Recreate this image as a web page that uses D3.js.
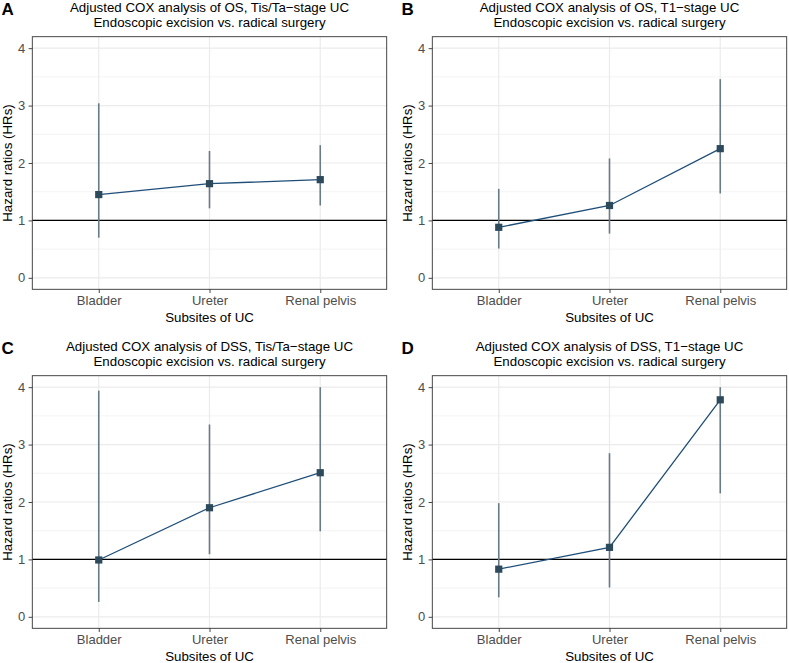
<!DOCTYPE html>
<html>
<head>
<meta charset="utf-8">
<script src="https://cdn.jsdelivr.net/npm/d3@7"></script>
<style>
  body { margin: 0; background: #fff; }
  svg { display: block; font-family: "Liberation Sans", Arial, sans-serif; }
</style>
</head>
<body>
<div id="chart"></div>
<script>
// Categories and axis ticks
const subsites = ['Bladder', 'Ureter', 'Renal pelvis'];
const yTicks = [0, 1, 2, 3, 4];
const yMinorTicks = [0.5, 1.5, 2.5, 3.5];

const panelLabels = ['A', 'B', 'C', 'D'];
const panelTitles = [
  'Adjusted COX analysis of OS, Tis/Ta\u2212stage UC',
  'Adjusted COX analysis of OS, T1\u2212stage UC',
  'Adjusted COX analysis of DSS, Tis/Ta\u2212stage UC',
  'Adjusted COX analysis of DSS, T1\u2212stage UC'
];
const subTitle = 'Endoscopic excision vs. radical surgery';

// Hazard ratios with 95% CI
const osTisHR = [1.45, 1.64, 1.71];
const osTisLow = [0.70, 1.21, 1.26];
const osTisHigh = [3.04, 2.21, 2.31];

const osT1HR = [0.88, 1.26, 2.25];
const osT1Low = [0.51, 0.77, 1.47];
const osT1High = [1.55, 2.08, 3.46];

const dssTisHR = [0.99, 1.90, 2.51];
const dssTisLow = [0.26, 1.09, 1.49];
const dssTisHigh = [3.94, 3.35, 4.00];

const dssT1HR = [0.83, 1.21, 3.78];
const dssT1Low = [0.34, 0.51, 2.15];
const dssT1High = [1.98, 2.85, 4.00];

const panelData = [
  [osTisHR, osTisLow, osTisHigh],
  [osT1HR, osT1Low, osT1High],
  [dssTisHR, dssTisLow, dssTisHigh],
  [dssT1HR, dssT1Low, dssT1High]
];

const width = 789;
const height = 663;

const svg = d3.select('#chart')
  .append('svg')
  .attr('width', width)
  .attr('height', height)
  .attr('viewBox', [0, 0, width, height]);

// panel box inside each cell
const boxLeft = 32.3, boxRight = 386.7, boxTop = 36.7, boxBottom = 289.3;
const offsets = [[0, 0], [400, 0], [0, 339], [400, 339]];

const x = d3.scalePoint()
  .domain(subsites)
  .range([boxLeft, boxRight])
  .padding(0.6);

const y = d3.scaleLinear()
  .domain([-0.2, 4.2])
  .range([boxBottom, boxTop]);

panelData.forEach(([hr, low, high], i) => {
  const g = svg.append('g')
    .attr('transform', `translate(${offsets[i][0]},${offsets[i][1]})`);

  const rows = subsites.map((s, j) => ({ site: s, hr: hr[j], low: low[j], high: high[j] }));

  // panel background
  g.append('rect')
    .attr('x', boxLeft).attr('y', boxTop)
    .attr('width', boxRight - boxLeft).attr('height', boxBottom - boxTop)
    .attr('fill', '#fff');

  // minor grid
  g.append('g').selectAll('line')
    .data(yMinorTicks)
    .join('line')
    .attr('x1', boxLeft).attr('x2', boxRight)
    .attr('y1', d => y(d)).attr('y2', d => y(d))
    .attr('stroke', '#f0f0f0').attr('stroke-width', 0.8);

  // major grid
  g.append('g').selectAll('line')
    .data(yTicks)
    .join('line')
    .attr('x1', boxLeft).attr('x2', boxRight)
    .attr('y1', d => y(d)).attr('y2', d => y(d))
    .attr('stroke', '#ebebeb').attr('stroke-width', 1.2);

  g.append('g').selectAll('line')
    .data(subsites)
    .join('line')
    .attr('x1', d => x(d)).attr('x2', d => x(d))
    .attr('y1', boxTop).attr('y2', boxBottom)
    .attr('stroke', '#ebebeb').attr('stroke-width', 1.2);

  // reference line at HR = 1
  g.append('line')
    .attr('x1', boxLeft).attr('x2', boxRight)
    .attr('y1', y(1)).attr('y2', y(1))
    .attr('stroke', '#000').attr('stroke-width', 1.3);

  // error bars
  g.append('g').selectAll('line')
    .data(rows)
    .join('line')
    .attr('x1', d => x(d.site)).attr('x2', d => x(d.site))
    .attr('y1', d => y(d.low)).attr('y2', d => y(d.high))
    .attr('stroke', '#687b87').attr('stroke-width', 1.6);

  // connecting line
  g.append('path')
    .datum(rows)
    .attr('fill', 'none')
    .attr('stroke', '#1f4e79')
    .attr('stroke-width', 1.3)
    .attr('d', d3.line().x(d => x(d.site)).y(d => y(d.hr)));

  // points
  g.append('g').selectAll('rect')
    .data(rows)
    .join('rect')
    .attr('x', d => x(d.site) - 3.6).attr('y', d => y(d.hr) - 3.6)
    .attr('width', 7.2).attr('height', 7.2)
    .attr('fill', '#2c4a5c');

  // panel border
  g.append('rect')
    .attr('x', boxLeft).attr('y', boxTop)
    .attr('width', boxRight - boxLeft).attr('height', boxBottom - boxTop)
    .attr('fill', 'none').attr('stroke', '#333').attr('stroke-width', 0.9);

  // axes
  const yAxis = g.append('g')
    .attr('transform', `translate(${boxLeft},0)`)
    .call(d3.axisLeft(y).tickValues(yTicks).tickFormat(d3.format('d')).tickSize(3.7).tickPadding(3.5));
  yAxis.select('.domain').remove();
  yAxis.selectAll('line').attr('stroke', '#333').attr('stroke-width', 0.9);
  yAxis.selectAll('text').attr('fill', '#4d4d4d').style('font-size', '13px').attr('font-family', null);

  const xAxis = g.append('g')
    .attr('transform', `translate(0,${boxBottom})`)
    .call(d3.axisBottom(x).tickSize(3.7).tickPadding(3));
  xAxis.select('.domain').remove();
  xAxis.selectAll('line').attr('stroke', '#333').attr('stroke-width', 0.9);
  xAxis.selectAll('text').attr('fill', '#4d4d4d').style('font-size', '13px').attr('font-family', null);

  // axis titles
  g.append('text')
    .attr('x', (boxLeft + boxRight) / 2)
    .attr('y', 322)
    .attr('text-anchor', 'middle')
    .style('font-size', '13.3px')
    .text('Subsites of UC');

  g.append('text')
    .attr('transform', `translate(12.3,${(boxTop + boxBottom) / 2}) rotate(-90)`)
    .attr('text-anchor', 'middle')
    .style('font-size', '13.3px')
    .text('Hazard ratios (HRs)');

  // titles
  g.append('text')
    .attr('x', (boxLeft + boxRight) / 2)
    .attr('y', 12)
    .attr('text-anchor', 'middle')
    .style('font-size', '13.3px')
    .text(panelTitles[i]);

  g.append('text')
    .attr('x', (boxLeft + boxRight) / 2)
    .attr('y', 26.5)
    .attr('text-anchor', 'middle')
    .style('font-size', '13.3px')
    .text(subTitle);

  // panel letter
  g.append('text')
    .attr('x', 1.5)
    .attr('y', 14.5)
    .style('font-size', '17px')
    .style('font-weight', 'bold')
    .text(panelLabels[i]);
});
</script>
</body>
</html>
